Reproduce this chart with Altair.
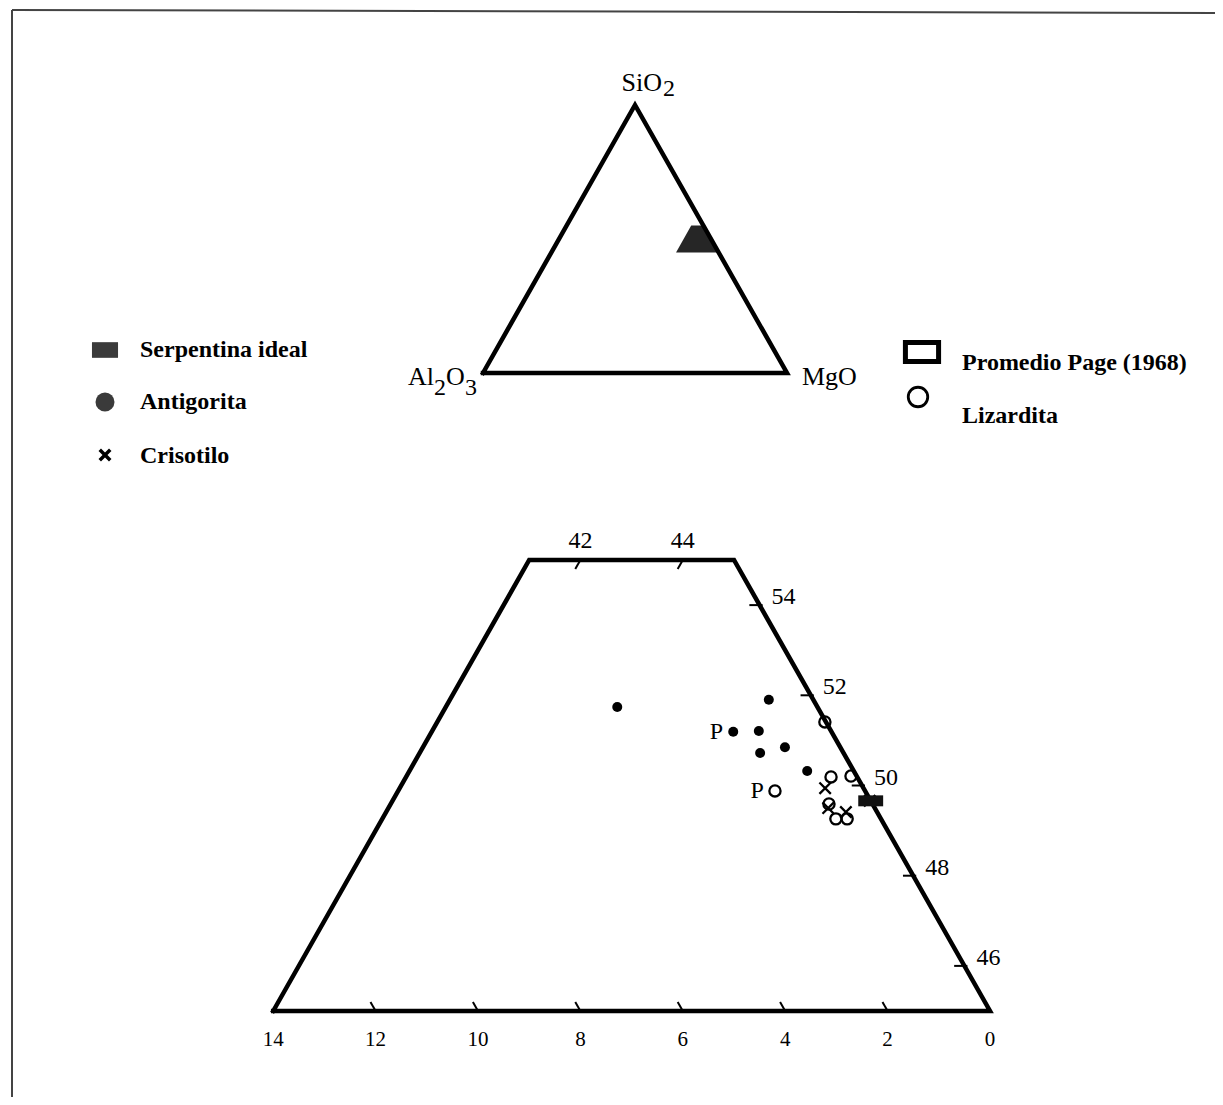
import altair as alt
import pandas as pd

# ---------------- data (anhydrous wt %) ----------------
# MgO = 100 - Al2O3 - SiO2
antigorita_al2o3 = [3.91, 0.87, 1.92, 1.41, 1.63, 1.08, 0.91]
antigorita_sio2 = [51.74, 51.90, 51.19, 51.21, 50.72, 50.85, 50.32]
lizardita_al2o3 = [1.76, 0.51, 0.11, 0.85, 0.88, 0.66, 0.02]
lizardita_sio2 = [49.88, 50.19, 50.21, 49.59, 49.26, 49.26, 51.41]
crisotilo_al2o3 = [0.75, 0.91, 0.61, 0.02]
crisotilo_sio2 = [49.94, 49.50, 49.41, 49.66]
serpentina_al2o3 = [0.0]
serpentina_sio2 = [49.66]
page_antigorita_index = 2   # point labelled "P" (Promedio Page, antigorita)
page_lizardita_index = 0    # point labelled "P" (Promedio Page, lizardita)

# enlarged window of the ternary: SiO2 45-55, MgO >= 41
window_sio2 = [45, 55]
window_mgo_min = 41

bottom_tick_values = [14, 12, 10, 8, 6, 4, 2, 0]   # Al2O3
right_tick_values = [46, 48, 50, 52, 54]           # SiO2
top_tick_values = [42, 44]                         # MgO

legend_left = ["Serpentina ideal", "Antigorita", "Crisotilo"]
legend_right = ["Promedio Page (1968)", "Lizardita"]

# ---------------- layout (page pixels) ----------------
W, H = 1207, 1089
M0 = 8
XS = alt.Scale(domain=[M0, M0 + W], nice=False, zero=False)
YS = alt.Scale(domain=[M0, M0 + H], nice=False, zero=False, reverse=True)
FONT = "Liberation Serif"

UP = {"x0": 483.0, "kx": 3.04, "y0": 373.0, "ky": 2.68}
LO = {"px0": 990.0, "X0": 77.5, "kx": 51.2, "py0": 1011.0, "si0": 45.0, "ky": 45.1}


def upper_xy(al, si):
    mg = 100.0 - al - si
    X = mg + si / 2.0
    return UP["x0"] + UP["kx"] * X, UP["y0"] - UP["ky"] * si


def lower_xy(al, si):
    mg = 100.0 - al - si
    X = mg + si / 2.0
    return LO["px0"] + LO["kx"] * (X - LO["X0"]), LO["py0"] - LO["ky"] * (si - LO["si0"])


def X(f):
    return alt.X(f, type="quantitative", scale=XS, axis=None)


def Y(f):
    return alt.Y(f, type="quantitative", scale=YS, axis=None)


lo_si, hi_si = window_sio2
al_bl = 100 - window_mgo_min - lo_si
al_tl = 100 - window_mgo_min - hi_si

# ---------------- outlines ----------------
rows = []
tri = [(100, 0), (0, 100), (0, 0), (100, 0)]
for i, (a, s) in enumerate(tri):
    x, y = upper_xy(a, s)
    rows.append({"shape": "tri", "order": i, "x": x, "y": y})
trap = [(al_bl, lo_si), (al_tl, hi_si), (0, hi_si), (0, lo_si), (al_bl, lo_si)]
for i, (a, s) in enumerate(trap):
    x, y = lower_xy(a, s)
    rows.append({"shape": "trap", "order": i, "x": x, "y": y})
outline_df = pd.DataFrame(rows)

outline = alt.Chart(outline_df).mark_line(
    color="black", strokeWidth=4.5, strokeJoin="miter", strokeCap="square"
).encode(x=X("x"), y=Y("y"), detail="shape:N", order="order:Q")

# window shaded in the small triangle
win_rows = []
for s, a_left in [(lo_si, al_bl), (hi_si, al_tl)]:
    xl, y = upper_xy(a_left, s)
    xr, _ = upper_xy(0, s)
    win_rows.append({"y": y, "xl": xl, "xr": xr})
win = alt.Chart(pd.DataFrame(win_rows)).mark_area(
    orient="horizontal", color="#262626"
).encode(y=Y("y"), x=X("xl"), x2="xr:Q")

# ---------------- ticks ----------------
tk = []
lab_bottom, lab_right, lab_top = [], [], []
for a in bottom_tick_values:
    x1, y1 = lower_xy(a, lo_si)
    if 0 < a < al_bl:
        x2, y2 = lower_xy(a, lo_si + 0.2)
        tk.append({"x": x1, "y": y1, "x2": x2, "y2": y2})
    lab_bottom.append({"x": x1, "y": y1 + 29, "t": str(a)})
for s in right_tick_values:
    x1, y1 = lower_xy(0, s)
    x2, y2 = lower_xy(0.2, s)
    tk.append({"x": x1 + 3, "y": y1, "x2": x2, "y2": y2})
    lab_right.append({"x": x1 + 12, "y": y1 - 8, "t": str(s)})
for m in top_tick_values:
    a = 100 - m - hi_si
    x1, y1 = lower_xy(a, hi_si)
    x2, y2 = lower_xy(a + 0.2, hi_si - 0.2)
    tk.append({"x": x1, "y": y1, "x2": x2, "y2": y2})
    lab_top.append({"x": x1, "y": y1 - 19, "t": str(m)})

ticks = alt.Chart(pd.DataFrame(tk)).mark_rule(color="black", strokeWidth=2).encode(
    x=X("x"), y=Y("y"), x2="x2:Q", y2="y2:Q"
)


def text_layer(df, size, align="center", weight="normal", baseline="middle"):
    return alt.Chart(pd.DataFrame(df)).mark_text(
        font=FONT, fontSize=size, fontWeight=weight, align=align,
        baseline=baseline, color="black"
    ).encode(x=X("x"), y=Y("y"), text="t:N")


tick_labels = (
    text_layer(lab_bottom, 21)
    + text_layer(lab_right, 24, align="left")
    + text_layer(lab_top, 24)
)

# ---------------- data points (lower diagram) ----------------
def pts(al_list, si_list):
    out = []
    for a, s in zip(al_list, si_list):
        x, y = lower_xy(a, s)
        out.append({"x": x, "y": y})
    return pd.DataFrame(out)


RECT = "M-1,-0.44L1,-0.44L1,0.44L-1,0.44Z"
XSHAPE = "M-1,-1L1,1M-1,1L1,-1"

ant = alt.Chart(pts(antigorita_al2o3, antigorita_sio2)).mark_point(
    shape="circle", filled=True, size=100, color="black", opacity=1
).encode(x=X("x"), y=Y("y"))
liz = alt.Chart(pts(lizardita_al2o3, lizardita_sio2)).mark_point(
    shape="circle", filled=False, size=125, color="black", strokeWidth=2.3, opacity=1
).encode(x=X("x"), y=Y("y"))
cri = alt.Chart(pts(crisotilo_al2o3, crisotilo_sio2)).mark_point(
    shape=XSHAPE, filled=False, size=130, color="black", strokeWidth=2.3, opacity=1
).encode(x=X("x"), y=Y("y"))
ser = alt.Chart(pts(serpentina_al2o3, serpentina_sio2)).mark_point(
    shape=RECT, filled=True, size=620, color="#111111", opacity=1
).encode(x=X("x"), y=Y("y"))

pa = lower_xy(antigorita_al2o3[page_antigorita_index], antigorita_sio2[page_antigorita_index])
pl = lower_xy(lizardita_al2o3[page_lizardita_index], lizardita_sio2[page_lizardita_index])
p_labels = text_layer(
    [{"x": pa[0] - 10, "y": pa[1], "t": "P"}, {"x": pl[0] - 11, "y": pl[1], "t": "P"}],
    24, align="right",
)

# ---------------- vertex labels (small triangle) ----------------
vs = upper_xy(0, 100)
va = upper_xy(100, 0)
vm = upper_xy(0, 0)
vert_main = text_layer(
    [
        {"x": vs[0] + 27, "y": vs[1] - 14, "t": "SiO"},
        {"x": va[0] - 49, "y": va[1] + 12, "t": "Al"},
    ],
    26, align="right", baseline="alphabetic",
) + text_layer(
    [
        {"x": va[0] - 37, "y": va[1] + 12, "t": "O"},
        {"x": vm[0] + 15, "y": vm[1] + 12, "t": "MgO"},
    ],
    26, align="left", baseline="alphabetic",
)
vert_sub = text_layer(
    [
        {"x": vs[0] + 28, "y": vs[1] - 9, "t": "2"},
        {"x": va[0] - 49, "y": va[1] + 22, "t": "2"},
        {"x": va[0] - 18, "y": va[1] + 22, "t": "3"},
    ],
    24, align="left", baseline="alphabetic",
)

# ---------------- legend ----------------
LEFT_ICON_X, LEFT_TEXT_X = 105, 140
RIGHT_ICON_X, RIGHT_TEXT_X = 922, 962
left_rows = [350, 402, 456]
right_text_rows = [363, 416]
right_icon_rows = [352, 397]

leg_text = text_layer(
    [{"x": LEFT_TEXT_X, "y": yy, "t": t} for t, yy in zip(legend_left, left_rows)]
    + [{"x": RIGHT_TEXT_X, "y": yy, "t": t} for t, yy in zip(legend_right, right_text_rows)],
    24, align="left", weight="bold",
)


def icon(x, y, **kw):
    return alt.Chart(pd.DataFrame([{"x": x, "y": y}])).mark_point(opacity=1, **kw).encode(
        x=X("x"), y=Y("y")
    )


leg_icons = (
    icon(LEFT_ICON_X, left_rows[0], shape="M-1,-0.6L1,-0.6L1,0.6L-1,0.6Z", filled=True,
         size=680, color="#3a3a3a")
    + icon(LEFT_ICON_X, left_rows[1], shape="circle", filled=True, size=360, color="#3a3a3a")
    + icon(LEFT_ICON_X, left_rows[2] - 1, shape=XSHAPE, filled=False, size=110,
           color="black", strokeWidth=3.5)
    + icon(RIGHT_ICON_X, right_icon_rows[0], shape="M-1,-0.58L1,-0.58L1,0.58L-1,0.58Z",
           filled=False, size=1100, color="black", strokeWidth=5, fill="white")
    + icon(RIGHT_ICON_X - 4, right_icon_rows[1], shape="circle", filled=False, size=380,
           color="black", strokeWidth=2.8)
)

# ---------------- page frame of the scanned figure ----------------
frame = alt.Chart(pd.DataFrame([
    {"x": 12, "y": 10, "x2": 1223, "y2": 13},
    {"x": 12, "y": 10, "x2": 12, "y2": 1105},
])).mark_rule(color="#444444", strokeWidth=2).encode(
    x=X("x"), y=Y("y"), x2="x2:Q", y2="y2:Q"
)

chart = alt.layer(
    frame, win, outline, ticks, tick_labels, ant, liz, cri, ser, p_labels,
    vert_main, vert_sub, leg_icons, leg_text,
).properties(
    width=W, height=H, padding=0, autosize=alt.AutoSizeParams(type="none"),
    background="white",
).configure_view(stroke=None)

chart.save("out.html", embed_options={"renderer": "svg", "actions": False})
